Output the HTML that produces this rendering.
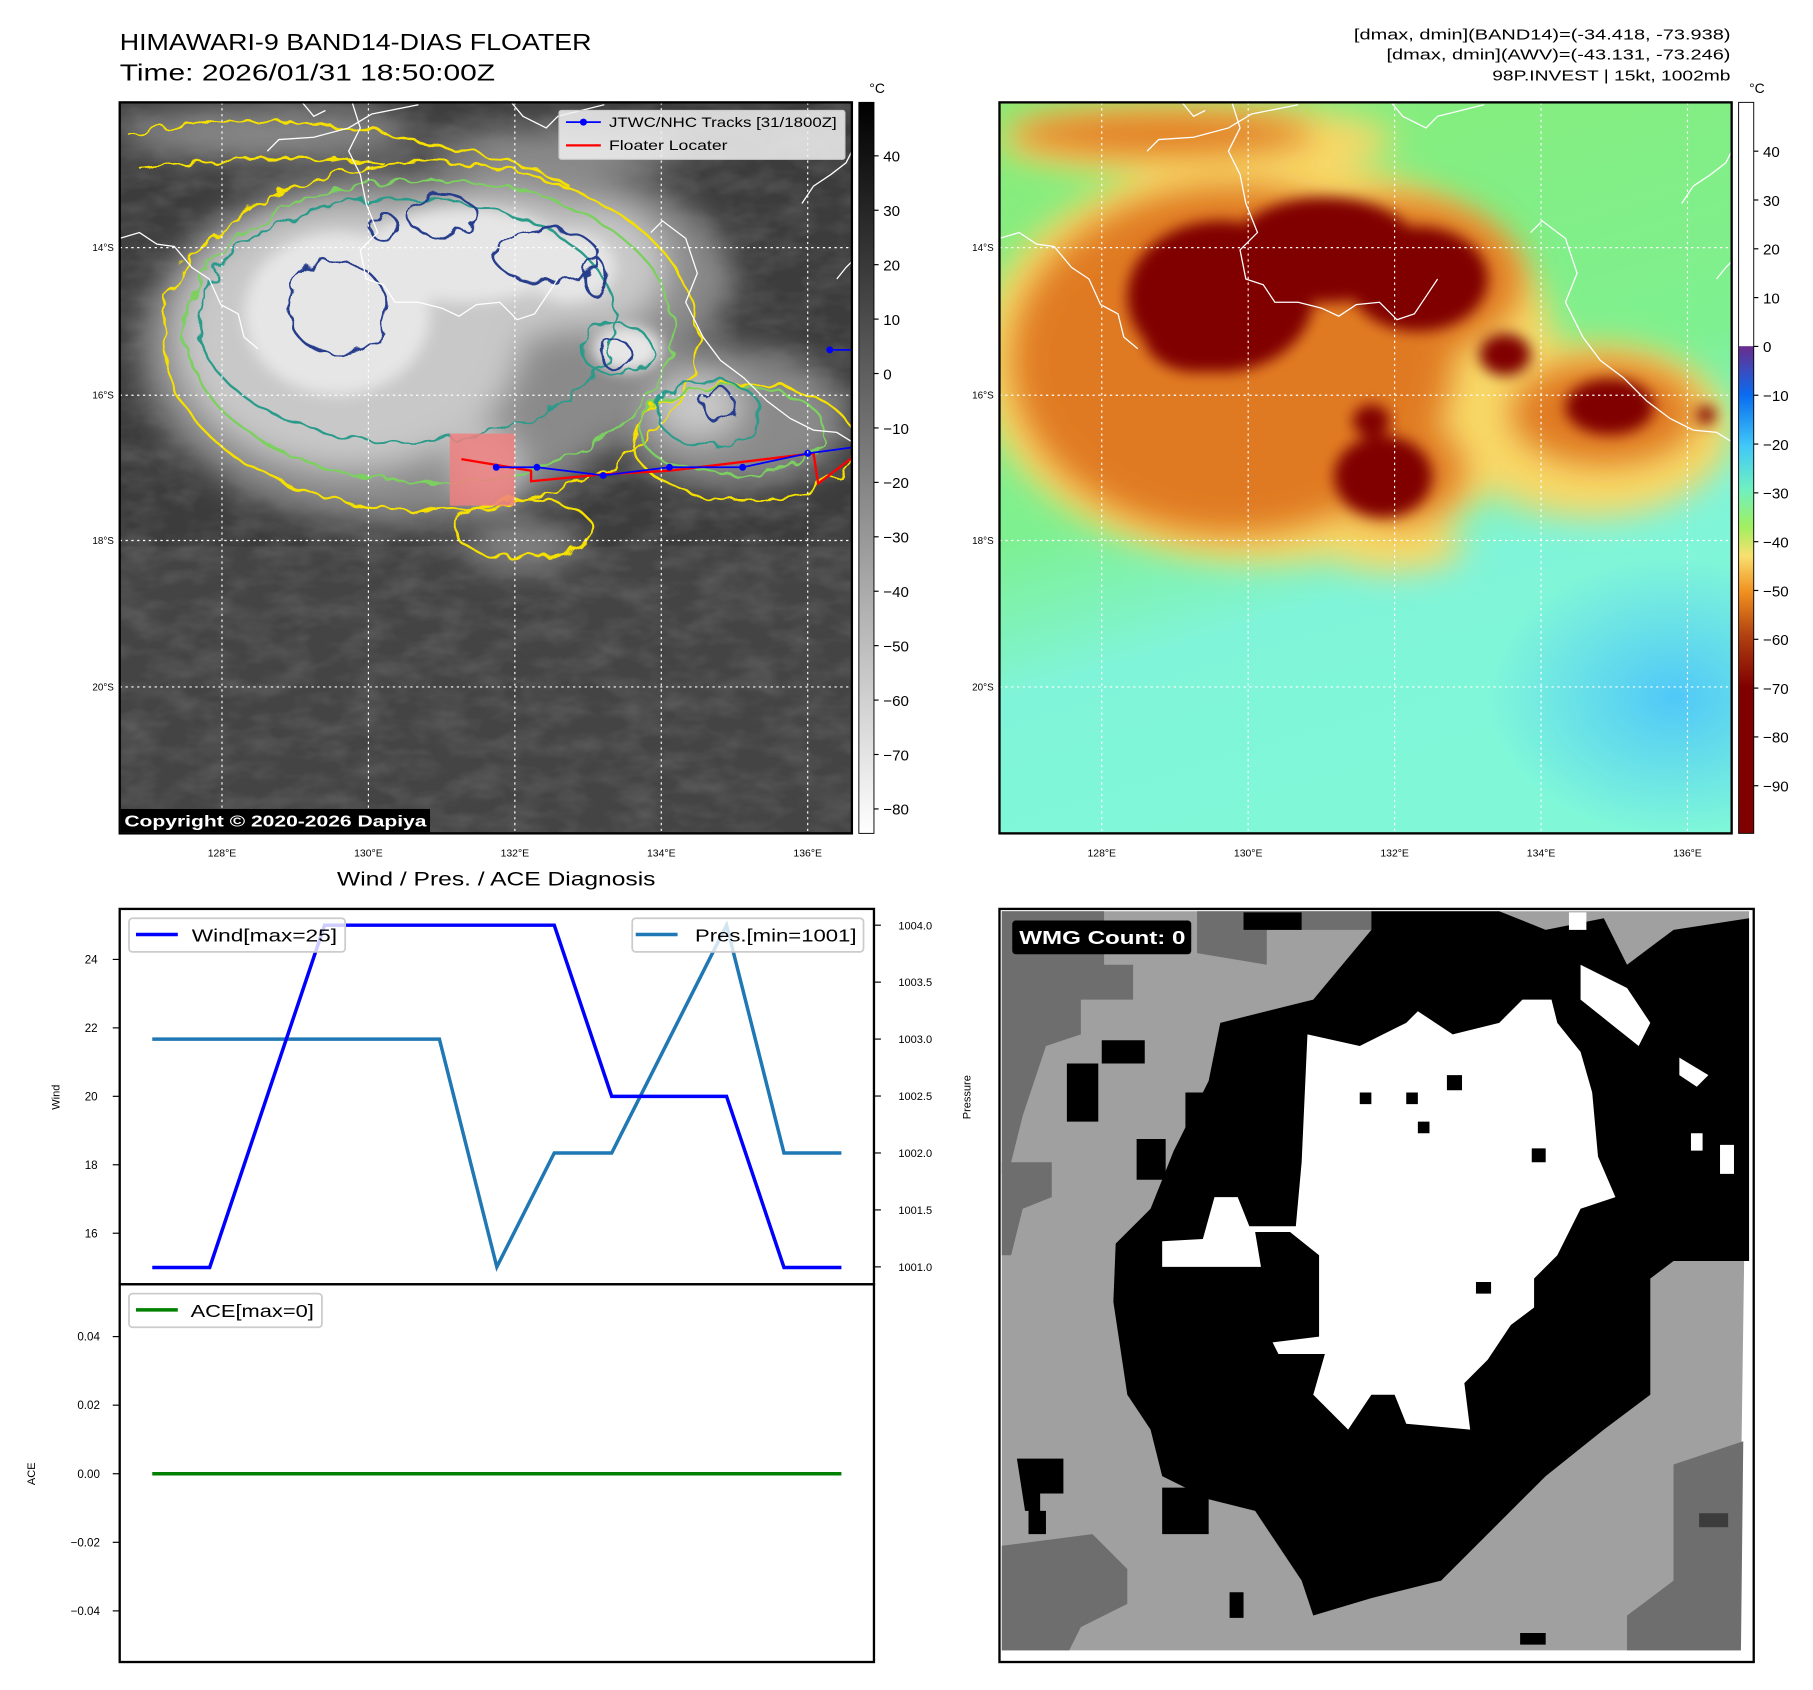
<!DOCTYPE html>
<html><head><meta charset="utf-8"><style>
html,body{margin:0;padding:0;background:#fff}
svg{display:block}
text{font-family:"Liberation Sans","DejaVu Sans",sans-serif}
</style></head><body>
<svg id="fig" width="1813" height="1690" viewBox="0 0 1560 1454" xmlns="http://www.w3.org/2000/svg">
<defs>
<filter id="blur" x="-30%" y="-30%" width="160%" height="160%"><feGaussianBlur stdDeviation="14"/></filter>
<filter id="blur2" x="-30%" y="-30%" width="160%" height="160%"><feGaussianBlur stdDeviation="6"/></filter>
<filter id="wig" x="-10%" y="-10%" width="120%" height="120%"><feTurbulence type="fractalNoise" baseFrequency="0.06" numOctaves="2" seed="3"/><feDisplacementMap in="SourceGraphic" scale="14"/></filter>
<filter id="tex" x="0" y="0" width="100%" height="100%"><feTurbulence type="fractalNoise" baseFrequency="0.03 0.06" numOctaves="3" seed="7"/><feColorMatrix type="matrix" values="0 0 0 0 1 0 0 0 0 1 0 0 0 0 1 0 0 0 0.22 -0.08"/></filter>
<linearGradient id="cb1" x1="0" y1="0" x2="0" y2="1"><stop offset="0" stop-color="#000"/><stop offset="1" stop-color="#fff"/></linearGradient>
<linearGradient id="cb2" x1="0" y1="0" x2="0" y2="1">
<stop offset="0" stop-color="#fff"/><stop offset="0.333" stop-color="#fff"/><stop offset="0.334" stop-color="#6a2c8e"/>
<stop offset="0.40" stop-color="#0a6cf0"/><stop offset="0.47" stop-color="#40c8f8"/><stop offset="0.53" stop-color="#70f0c0"/>
<stop offset="0.58" stop-color="#a0f060"/><stop offset="0.62" stop-color="#f8e070"/><stop offset="0.67" stop-color="#f09020"/>
<stop offset="0.73" stop-color="#b04010"/><stop offset="0.80" stop-color="#800000"/><stop offset="1" stop-color="#800000"/></linearGradient>
<linearGradient id="bg2" x1="0" y1="0" x2="0.3" y2="1"><stop offset="0" stop-color="#88ec78"/><stop offset="0.55" stop-color="#7ef090"/><stop offset="0.75" stop-color="#80f4d8"/><stop offset="1" stop-color="#80f8d8"/></linearGradient>
<radialGradient id="bluepatch" cx="0.5" cy="0.5" r="0.5"><stop offset="0" stop-color="#50c8f8"/><stop offset="1" stop-color="#50c8f8" stop-opacity="0"/></radialGradient>
<clipPath id="c1"><rect x="103" y="88" width="630" height="629"/></clipPath>
<clipPath id="c2"><rect x="860" y="88" width="630" height="629"/></clipPath>
<g id="coast">
<path d="M103,205 L120,200 L135,210 L150,212 L165,230 L180,240 L190,262 L205,270 L210,290 L222,300 M230,130 L240,120 L270,118 L300,110 L320,98 L340,94 L360,90 M260,88 L270,100 L280,95 M303,88 L310,110 L300,130 L310,150 L315,175 L325,200 L310,215 L315,240 L330,245 L340,260 L360,260 L380,265 L395,272 L410,262 L430,260 L445,275 L460,270 L470,255 L480,240 M440,88 L450,100 L470,110 L480,100 L500,95 L520,90 M560,200 L570,190 L590,205 L600,235 L590,260 L605,290 L620,310 L640,325 L660,345 L680,360 L700,370 L720,372 L733,380 M690,175 L700,160 L715,150 L728,140 L733,130 M720,240 L728,230 L733,225" fill="none" stroke="#fff" stroke-width="1.1"/>
</g>
</defs>

<!-- Titles -->
<text x="103" y="43" font-size="20" textLength="406" lengthAdjust="spacingAndGlyphs">HIMAWARI-9 BAND14-DIAS FLOATER</text>
<text x="103" y="69" font-size="20" textLength="323" lengthAdjust="spacingAndGlyphs">Time: 2026/01/31 18:50:00Z</text>
<text x="1489" y="34" font-size="13" text-anchor="end" textLength="324" lengthAdjust="spacingAndGlyphs">[dmax, dmin](BAND14)=(-34.418, -73.938)</text>
<text x="1489" y="51" font-size="13" text-anchor="end" textLength="296" lengthAdjust="spacingAndGlyphs">[dmax, dmin](AWV)=(-43.131, -73.246)</text>
<text x="1489" y="69" font-size="13" text-anchor="end" textLength="205" lengthAdjust="spacingAndGlyphs">98P.INVEST | 15kt, 1002mb</text>

<!-- MAP 1 -->
<g clip-path="url(#c1)">
<rect x="103" y="88" width="630" height="629" fill="#3c3c3c"/>
<rect x="103" y="470" width="630" height="247" fill="#444"/>
<rect x="103" y="88" width="630" height="629" filter="url(#tex)"/>
<g filter="url(#blur)" fill="#8a8a8a">
<ellipse cx="230" cy="115" rx="130" ry="22"/><ellipse cx="480" cy="130" rx="110" ry="20"/>
<ellipse cx="340" cy="300" rx="220" ry="150"/><ellipse cx="460" cy="240" rx="170" ry="95"/>
<ellipse cx="630" cy="360" rx="100" ry="60"/><ellipse cx="450" cy="470" rx="50" ry="18"/>
</g>
<g filter="url(#blur)" fill="#c8c8c8">
<ellipse cx="300" cy="290" rx="150" ry="115"/><ellipse cx="420" cy="230" rx="120" ry="65"/>
<ellipse cx="510" cy="230" rx="65" ry="55"/><ellipse cx="420" cy="400" rx="30" ry="30"/><ellipse cx="600" cy="350" rx="40" ry="30"/>
</g>
<g filter="url(#blur2)" fill="#e6e6e6">
<ellipse cx="290" cy="270" rx="80" ry="70"/><ellipse cx="400" cy="220" rx="90" ry="40"/><ellipse cx="490" cy="230" rx="40" ry="30"/><ellipse cx="540" cy="300" rx="30" ry="20"/>
</g>
<g fill="none" filter="url(#wig)" stroke-width="2">
<path d="M110,115 Q230,95 330,115 T470,150 L490,160 M120,145 Q240,130 330,140" stroke="#f5e000"/>
<ellipse cx="370" cy="290" rx="230" ry="150" stroke="#f5e000"/>
<ellipse cx="450" cy="455" rx="60" ry="25" stroke="#f5e000"/>
<ellipse cx="640" cy="380" rx="95" ry="50" stroke="#f5e000"/>
<ellipse cx="370" cy="285" rx="210" ry="130" stroke="#7cd060"/>
<ellipse cx="630" cy="370" rx="80" ry="38" stroke="#7cd060"/>
<ellipse cx="350" cy="275" rx="180" ry="105" stroke="#2a9a8a"/>
<ellipse cx="610" cy="355" rx="45" ry="28" stroke="#2a9a8a"/>
<ellipse cx="530" cy="300" rx="30" ry="22" stroke="#2a9a8a"/>
<ellipse cx="290" cy="265" rx="42" ry="40" stroke="#283c8c"/>
<ellipse cx="380" cy="185" rx="30" ry="18" stroke="#283c8c"/>
<ellipse cx="470" cy="220" rx="45" ry="22" stroke="#283c8c"/>
<ellipse cx="512" cy="238" rx="10" ry="16" stroke="#283c8c"/>
<ellipse cx="330" cy="195" rx="12" ry="12" stroke="#283c8c"/>
<ellipse cx="618" cy="348" rx="14" ry="14" stroke="#283c8c"/>
<ellipse cx="530" cy="305" rx="14" ry="12" stroke="#283c8c"/>
</g>
<use href="#coast"/>
<rect x="387" y="373" width="56" height="62" fill="#f08080" opacity="0.85"/>
<polyline points="397,395 457,405 457,414 520,408 576,405 700,390 704,416 733,394" fill="none" stroke="#f00" stroke-width="2"/>
<polyline points="427,402 462,402 519,409 576,402 639,402 695,390 733,385" fill="none" stroke="#00f" stroke-width="1.5"/>
<polyline points="714,301 733,301" fill="none" stroke="#00f" stroke-width="1.5"/>
<g fill="#00f"><circle cx="427" cy="402" r="3"/><circle cx="462" cy="402" r="3"/><circle cx="519" cy="409" r="3"/><circle cx="576" cy="402" r="3"/><circle cx="639" cy="402" r="3"/><circle cx="695" cy="390" r="3"/><circle cx="714" cy="301" r="3"/></g>
<g stroke="#fff" stroke-width="1" stroke-dasharray="2,3">
<line x1="103" y1="213" x2="733" y2="213"/><line x1="103" y1="340" x2="733" y2="340"/><line x1="103" y1="465" x2="733" y2="465"/><line x1="103" y1="591" x2="733" y2="591"/>
<line x1="191" y1="88" x2="191" y2="717"/><line x1="317" y1="88" x2="317" y2="717"/><line x1="443" y1="88" x2="443" y2="717"/><line x1="569" y1="88" x2="569" y2="717"/><line x1="695" y1="88" x2="695" y2="717"/>
</g>
</g>
<rect x="103" y="88" width="630" height="629" fill="none" stroke="#000" stroke-width="2"/>
<g>
<rect x="481" y="95" width="246" height="42" fill="#f2f2f2" fill-opacity="0.85" stroke="#ccc" rx="2"/>
<line x1="487" y1="105" x2="517" y2="105" stroke="#00f" stroke-width="1.5"/><circle cx="502" cy="105" r="3" fill="#00f"/>
<text x="524" y="109" font-size="11.5" textLength="196" lengthAdjust="spacingAndGlyphs">JTWC/NHC Tracks [31/1800Z]</text>
<line x1="487" y1="125" x2="517" y2="125" stroke="#f00" stroke-width="2"/>
<text x="524" y="129" font-size="11.5" textLength="102" lengthAdjust="spacingAndGlyphs">Floater Locater</text>
</g>
<rect x="104" y="696" width="266" height="20" fill="#000"/>
<text x="107" y="711" font-size="13.5" font-weight="bold" fill="#fff" textLength="260" lengthAdjust="spacingAndGlyphs">Copyright © 2020-2026 Dapiya</text>
<g font-size="8.5" text-anchor="end">
<text x="98" y="216">14°S</text><text x="98" y="343">16°S</text><text x="98" y="468">18°S</text><text x="98" y="594">20°S</text>
<text x="855" y="216">14°S</text><text x="855" y="343">16°S</text><text x="855" y="468">18°S</text><text x="855" y="594">20°S</text>
</g>
<g font-size="9" text-anchor="middle">
<text x="191" y="737">128°E</text><text x="317" y="737">130°E</text><text x="443" y="737">132°E</text><text x="569" y="737">134°E</text><text x="695" y="737">136°E</text>
<text x="948" y="737">128°E</text><text x="1074" y="737">130°E</text><text x="1200" y="737">132°E</text><text x="1326" y="737">134°E</text><text x="1452" y="737">136°E</text>
</g>
<!-- colorbar 1 -->
<g>
<rect x="739" y="88" width="13" height="629" fill="url(#cb1)" stroke="#000" stroke-width="0.8"/>
<text x="748" y="80" font-size="12">°C</text>
<g id="cb1t" font-size="13"></g>
</g>
<!-- MAP 2 -->
<g clip-path="url(#c2)">
<rect x="860" y="88" width="630" height="629" fill="url(#bg2)"/>
<ellipse cx="1440" cy="600" rx="160" ry="120" fill="url(#bluepatch)"/>
<g filter="url(#blur)" fill="#f8d868">
<ellipse cx="1030" cy="120" rx="170" ry="30"/><ellipse cx="1090" cy="310" rx="250" ry="175"/><ellipse cx="1370" cy="370" rx="120" ry="75"/><ellipse cx="1200" cy="470" rx="60" ry="22"/>
</g>
<g filter="url(#blur)" fill="#e07a20">
<ellipse cx="1000" cy="115" rx="130" ry="18"/><ellipse cx="1060" cy="310" rx="190" ry="150"/><ellipse cx="1200" cy="240" rx="110" ry="70"/><ellipse cx="1380" cy="355" rx="80" ry="45"/><ellipse cx="1200" cy="405" rx="60" ry="45"/>
</g>
<g filter="url(#blur2)" fill="#800000">
<ellipse cx="1050" cy="255" rx="80" ry="65"/><ellipse cx="1140" cy="215" rx="80" ry="45"/><ellipse cx="1220" cy="240" rx="60" ry="45"/><ellipse cx="1030" cy="290" rx="45" ry="30"/>
<ellipse cx="1180" cy="362" rx="16" ry="14"/><ellipse cx="1190" cy="410" rx="42" ry="35"/><ellipse cx="1385" cy="350" rx="38" ry="24"/><ellipse cx="1295" cy="305" rx="22" ry="18"/><ellipse cx="1468" cy="357" rx="8" ry="8"/>
</g>
<use href="#coast" transform="translate(757,0)"/>
<g stroke="#fff" stroke-width="1" stroke-dasharray="2,3">
<line x1="860" y1="213" x2="1490" y2="213"/><line x1="860" y1="340" x2="1490" y2="340"/><line x1="860" y1="465" x2="1490" y2="465"/><line x1="860" y1="591" x2="1490" y2="591"/>
<line x1="948" y1="88" x2="948" y2="717"/><line x1="1074" y1="88" x2="1074" y2="717"/><line x1="1200" y1="88" x2="1200" y2="717"/><line x1="1326" y1="88" x2="1326" y2="717"/><line x1="1452" y1="88" x2="1452" y2="717"/>
</g>
</g>
<rect x="860" y="88" width="630" height="629" fill="none" stroke="#000" stroke-width="2"/>
<g>
<rect x="1496" y="88" width="13" height="629" fill="url(#cb2)" stroke="#000" stroke-width="0.8"/>
<text x="1505" y="80" font-size="12">°C</text>
<g id="cb2t" font-size="13"></g>
</g>

<!-- Diagnosis chart -->
<text x="427" y="762" font-size="17" text-anchor="middle" textLength="274" lengthAdjust="spacingAndGlyphs">Wind / Pres. / ACE Diagnosis</text>
<g id="chart"></g>

<!-- WMG panel -->
<g>
<rect x="860" y="782" width="649" height="648" fill="#fff"/>
<path d="M862,784 L1505,784 L1496,1420 L862,1420 Z" fill="#a0a0a0"/>
<path d="M862,784 L950,784 L950,830 L975,830 L975,860 L930,860 L930,890 L900,900 L880,960 L870,1000 L862,1010 Z" fill="#6e6e6e"/>
<path d="M1030,784 L1180,784 L1180,800 L1090,800 L1090,830 L1030,820 Z" fill="#6e6e6e"/>
<path d="M862,1000 L905,1000 L905,1030 L880,1040 L870,1080 L862,1080 Z" fill="#6e6e6e"/>
<path d="M862,1330 L940,1320 L970,1350 L970,1380 L930,1400 L920,1420 L862,1420 Z" fill="#6e6e6e"/>
<path d="M1440,1260 L1500,1240 L1498,1420 L1400,1420 L1400,1390 L1440,1360 Z" fill="#6e6e6e"/>
<rect x="1462" y="1302" width="25" height="12" fill="#3c3c3c"/>
<path d="M1050,880 L1130,860 L1180,800 L1180,784 L1290,784 L1330,800 L1380,790 L1400,830 L1440,800 L1505,790 L1505,1085 L1440,1085 L1420,1100 L1420,1200 L1380,1230 L1330,1270 L1290,1310 L1240,1360 L1180,1375 L1130,1390 L1120,1360 L1100,1330 L1080,1300 L1040,1290 L1000,1270 L990,1230 L970,1200 L958,1120 L960,1070 L990,1040 L1010,990 L1040,930 Z" fill="#000"/>
<path d="M1070,785 L1120,785 L1120,800 L1070,800 Z M918,915 L945,915 L945,965 L918,965 Z M978,980 L1003,980 L1003,1015 L978,1015 Z M948,895 L985,895 L985,915 L948,915 Z M875,1255 L915,1255 L915,1285 L895,1285 L895,1300 L882,1300 Z M885,1300 L900,1300 L900,1320 L885,1320 Z M1320,830 L1345,830 L1345,850 L1320,850 Z M1020,940 L1055,940 L1055,975 L1020,975 Z M1000,1280 L1040,1280 L1040,1320 L1000,1320 Z M1058,1370 L1070,1370 L1070,1392 L1058,1392 Z M1308,1405 L1330,1405 L1330,1415 L1308,1415 Z" fill="#000"/>
<path d="M1125,890 L1170,900 L1210,880 L1220,870 L1250,890 L1290,880 L1310,860 L1335,860 L1340,880 L1360,905 L1370,940 L1375,995 L1390,1030 L1360,1040 L1350,1060 L1340,1080 L1320,1100 L1320,1125 L1300,1140 L1280,1170 L1260,1190 L1265,1230 L1210,1225 L1200,1200 L1180,1200 L1160,1230 L1130,1200 L1140,1165 L1100,1165 L1095,1155 L1135,1150 L1135,1080 L1110,1060 L1080,1060 L1085,1090 L1000,1090 L1000,1068 L1035,1066 L1045,1030 L1065,1030 L1075,1055 L1115,1055 L1120,1000 Z" fill="#fff"/>
<path d="M1360,830 L1400,850 L1420,880 L1410,900 L1385,880 L1360,860 Z M1480,985 L1492,985 L1492,1010 L1480,1010 Z M1455,975 L1465,975 L1465,990 L1455,990 Z M1445,910 L1470,925 L1460,935 L1445,925 Z M1350,785 L1365,785 L1365,800 L1350,800 Z" fill="#fff"/>
<path d="M1170,940 L1180,940 L1180,950 L1170,950 Z M1220,965 L1230,965 L1230,975 L1220,975 Z M1318,988 L1330,988 L1330,1000 L1318,1000 Z M1270,1103 L1283,1103 L1283,1113 L1270,1113 Z M1210,940 L1220,940 L1220,950 L1210,950 Z M1245,925 L1258,925 L1258,938 L1245,938 Z" fill="#000"/>
<rect x="860" y="782" width="649" height="648" fill="none" stroke="#000" stroke-width="2"/>
<rect x="871" y="792" width="154" height="29" rx="3" fill="#000"/>
<text x="877" y="812" font-size="16" font-weight="bold" fill="#fff" textLength="143" lengthAdjust="spacingAndGlyphs">WMG Count: 0</text>
</g>
</svg>
<script>
// ----- colorbar tick labels -----
const cb1Ticks=[40,30,20,10,0,-10,-20,-30,-40,-50,-60,-70,-80];
const cb2Ticks=[40,30,20,10,0,-10,-20,-30,-40,-50,-60,-70,-80,-90];
// ----- diagnosis chart data -----
const idx=[0,1,2,3,4,5,6,7,8,9,10,11,12];
const wind=[15,15,20,25,25,25,25,25,20,20,20,15,15];
const pres=[1003,1003,1003,1003,1003,1003,1001,1002,1002,1003,1004,1002,1002];
const ace=[0,0,0,0,0,0,0,0,0,0,0,0,0];
const windTicks=[16,18,20,22,24];
const presTicks=[1001.0,1001.5,1002.0,1002.5,1003.0,1003.5,1004.0];
const aceTicks=[0.04,0.02,0.00,-0.02,-0.04];

const NS='http://www.w3.org/2000/svg';
function mk(tag,attrs,parent,txt){const e=document.createElementNS(NS,tag);for(const k in attrs)e.setAttribute(k,attrs[k]);if(txt!==undefined)e.textContent=txt;parent.appendChild(e);return e;}
function fmt(v){return v<0?'\u2212'+Math.abs(v):String(v);}

const cb1=document.getElementById('cb1t');
const cb1Y=v=>134+(40-v)*4.683;
cb1Ticks.forEach(v=>{const y=cb1Y(v);
 mk('line',{x1:752,y1:y,x2:756,y2:y,stroke:'#000'},cb1);
 const t=mk('text',{x:760,y:y+5},cb1,fmt(v));
 
 });
const cb2=document.getElementById('cb2t');
const cb2Y=v=>v>=0?130+(40-v)*4.2:298+(-v)*4.2;
cb2Ticks.forEach(v=>{const y=cb2Y(v);
 mk('line',{x1:1509,y1:y,x2:1513,y2:y,stroke:'#000'},cb2);
 const t=mk('text',{x:1517,y:y+5},cb2,fmt(v));
 
 });

const g=document.getElementById('chart');
const X=i=>131+i*(724-131)/12;
const yW=v=>796+(25-v)*29.45;
const yP=v=>1090-(v-1001)*98;
const yA=v=>1268-v*2950;
mk('rect',{x:103,y:782,width:649,height:323,fill:'#fff',stroke:'#000','stroke-width':2},g);
mk('rect',{x:103,y:1105,width:649,height:325,fill:'#fff',stroke:'#000','stroke-width':2},g);
windTicks.forEach(v=>{const y=yW(v);mk('line',{x1:97,y1:y,x2:103,y2:y,stroke:'#000'},g);
 const t=mk('text',{x:84,y:y+3.5,'font-size':10,'text-anchor':'end'},g,String(v));
 
 });
presTicks.forEach(v=>{const y=yP(v);mk('line',{x1:752,y1:y,x2:758,y2:y,stroke:'#000'},g);
 const t=mk('text',{x:773,y:y+3.5,'font-size':9.5},g,v.toFixed(1));
 
 });
aceTicks.forEach(v=>{const y=yA(v);mk('line',{x1:97,y1:y,x2:103,y2:y,stroke:'#000'},g);
 const t=mk('text',{x:86,y:y+3.5,'font-size':10,'text-anchor':'end'},g,v<0?'\u2212'+Math.abs(v).toFixed(2):v.toFixed(2));
 
 });
let t;
t=mk('text',{x:0,y:0,'font-size':9.5,transform:'translate(51,944) rotate(-90)','text-anchor':'middle'},g,'Wind');


t=mk('text',{x:0,y:0,'font-size':9.5,transform:'translate(835,944) rotate(-90)','text-anchor':'middle'},g,'Pressure');


t=mk('text',{x:0,y:0,'font-size':9.5,transform:'translate(30,1268) rotate(-90)','text-anchor':'middle'},g,'ACE');


let p;
p=mk('polyline',{points:idx.map(i=>X(i)+','+yP(pres[i])).join(' '),fill:'none',stroke:'#1f77b4','stroke-width':3,'stroke-linejoin':'miter'},g);


p=mk('polyline',{points:idx.map(i=>X(i)+','+yW(wind[i])).join(' '),fill:'none',stroke:'#0000ff','stroke-width':3},g);


p=mk('polyline',{points:idx.map(i=>X(i)+','+yA(ace[i])).join(' '),fill:'none',stroke:'#008000','stroke-width':3},g);


// legends
let lg=mk('g',{},g);


mk('rect',{x:111,y:790,width:186,height:29,rx:3,fill:'#fff','fill-opacity':0.8,stroke:'#ccc','stroke-width':1.5},lg);
mk('line',{x1:117,y1:804,x2:153,y2:804,stroke:'#0000ff','stroke-width':3},lg);
mk('text',{x:165,y:810,'font-size':15,textLength:125,lengthAdjust:'spacingAndGlyphs'},lg,'Wind[max=25]');
lg=mk('g',{},g);


mk('rect',{x:544,y:790,width:199,height:29,rx:3,fill:'#fff','fill-opacity':0.8,stroke:'#ccc','stroke-width':1.5},lg);
mk('line',{x1:547,y1:804,x2:583,y2:804,stroke:'#1f77b4','stroke-width':3},lg);
mk('text',{x:598,y:810,'font-size':15,textLength:139,lengthAdjust:'spacingAndGlyphs'},lg,'Pres.[min=1001]');
lg=mk('g',{},g);


mk('rect',{x:111,y:1113,width:166,height:29,rx:3,fill:'#fff','fill-opacity':0.8,stroke:'#ccc','stroke-width':1.5},lg);
mk('line',{x1:117,y1:1127,x2:153,y2:1127,stroke:'#008000','stroke-width':3},lg);
mk('text',{x:164,y:1133,'font-size':15,textLength:106,lengthAdjust:'spacingAndGlyphs'},lg,'ACE[max=0]');
</script>
</body></html>
